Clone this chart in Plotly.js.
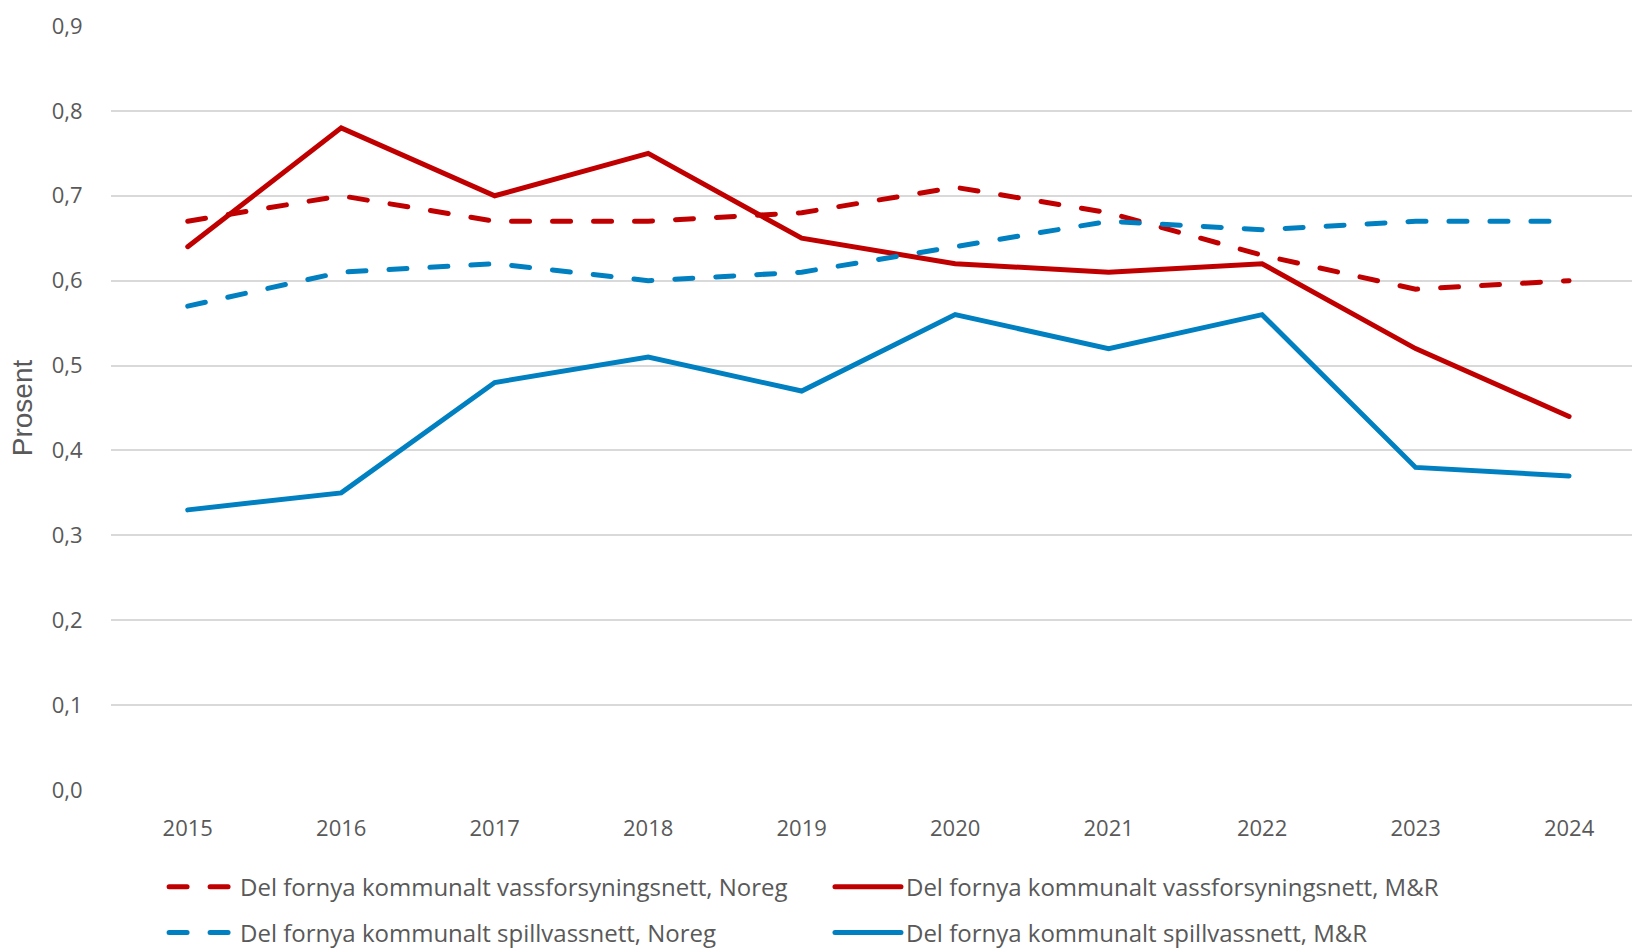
<!DOCTYPE html>
<html>
<head>
<meta charset="utf-8">
<script src="https://cdn.plot.ly/plotly-3.0.1.min.js"></script>
<style>
html,body{margin:0;padding:0;background:#fff;}
#chart{width:1632px;height:950px;}
path.js-line, .legendlines path { stroke-linecap: round; }
</style>
</head>
<body>
<div id="chart"></div>
<script>
const years = ["2015","2016","2017","2018","2019","2020","2021","2022","2023","2024"];
const vassNoreg = [0.67, 0.70, 0.67, 0.67, 0.68, 0.71, 0.68, 0.63, 0.59, 0.60];
const vassMR    = [0.64, 0.78, 0.70, 0.75, 0.65, 0.62, 0.61, 0.62, 0.52, 0.44];
const spillNoreg = [0.57, 0.61, 0.62, 0.60, 0.61, 0.64, 0.67, 0.66, 0.67, 0.67];
const spillMR    = [0.33, 0.35, 0.48, 0.51, 0.47, 0.56, 0.52, 0.56, 0.38, 0.37];
const names = [
  "Del fornya kommunalt vassforsyningsnett, Noreg",
  "Del fornya kommunalt vassforsyningsnett, M&R",
  "Del fornya kommunalt spillvassnett, Noreg",
  "Del fornya kommunalt spillvassnett, M&R"
];
const yTicks = [0,0.1,0.2,0.3,0.4,0.5,0.6,0.7,0.8,0.9];

const red = "#C00000", blue = "#0080C0";
const dash = "18px,23px";
const traces = [
  {x: years, y: vassNoreg, name: names[0], mode: "lines", legend: "legend", line: {color: red, width: 5, dash: dash}},
  {x: years, y: vassMR, name: names[1], mode: "lines", legend: "legend2", line: {color: red, width: 5}},
  {x: years, y: spillNoreg, name: names[2], mode: "lines", legend: "legend3", line: {color: blue, width: 5, dash: dash}},
  {x: years, y: spillMR, name: names[3], mode: "lines", legend: "legend4", line: {color: blue, width: 5}}
];
const txt = "#595959";
const mainFont = "'Open Sans', 'Noto Sans', sans-serif";
function leg(x, y) {
  return {
    orientation: "v", x: x, xanchor: "left", y: y, yanchor: "middle",
    itemwidth: 66, bgcolor: "rgba(0,0,0,0)",
    font: {family: mainFont, size: 24, color: txt}
  };
}
const layout = {
  width: 1632, height: 950,
  margin: {l: 111, r: 0, t: 26, b: 160, autoexpand: false},
  paper_bgcolor: "#fff", plot_bgcolor: "#fff",
  font: {family: mainFont, color: txt, size: 20},
  separators: ", ",
  showlegend: true,
  xaxis: {
    type: "category", range: [-0.5, 9.41],
    showgrid: false, zeroline: false, showline: false,
    ticks: "outside", ticklen: 19, tickcolor: "rgba(0,0,0,0)",
    tickfont: {family: mainFont, size: 22, color: txt}
  },
  yaxis: {
    range: [0, 0.9], tickvals: yTicks, tickformat: ".1f",
    showgrid: true, gridcolor: "#d9d9d9", gridwidth: 2,
    zeroline: false, showline: false,
    ticks: "outside", ticklen: 23, tickcolor: "rgba(0,0,0,0)",
    tickfont: {family: mainFont, size: 22, color: txt},
    title: {text: "Prosent", font: {family: "'Liberation Sans', Arial, sans-serif", size: 28, color: txt}, standoff: 10}
  },
  legend: leg(0.0349, -0.127),
  legend2: leg(0.4727, -0.127),
  legend3: leg(0.0349, -0.187),
  legend4: leg(0.4727, -0.187)
};
Plotly.newPlot("chart", traces, layout, {displayModeBar: false, staticPlot: true});
</script>
</body>
</html>
